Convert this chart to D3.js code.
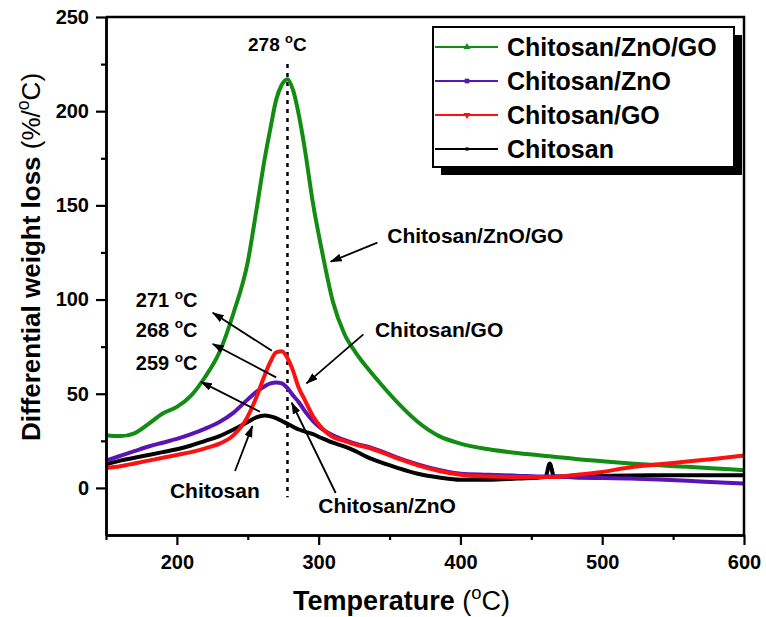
<!DOCTYPE html>
<html>
<head>
<meta charset="utf-8">
<script src="https://cdn.jsdelivr.net/npm/d3@7"></script>
<style>
  body { margin: 0; background: #fff; }
  text { font-family: Arial, "Liberation Sans", sans-serif; fill: #000; }
</style>
</head>
<body>
<svg width="766" height="617"></svg>
<script>
// Temperature grid (°C) shared by all four DTG curves
var temps = [150, 160, 170, 180, 190, 200, 210, 220, 230, 240, 250, 256, 262, 266, 270, 274, 278,
             282, 286, 290, 296, 302, 310, 318, 326, 334, 344, 356, 370, 385, 400, 420, 440,
             460, 463, 466, 480, 500, 520, 540, 560, 580, 600];

// Differential weight loss (%/°C)
var znoGo = [28, 27.5, 29, 34, 39.5, 43, 49, 59, 72, 93, 120, 147, 175, 191, 206, 214, 217,
             211, 198, 181, 151, 127, 99, 82, 72, 64, 55, 45, 35, 27.5, 23.5, 20.5, 18.5,
             17, 16.8, 16.6, 15.5, 14.2, 13, 12, 11.2, 10.3, 9.4];
var zno = [14.5, 17, 19.5, 22, 24, 26, 28.5, 31.5, 35, 40, 47, 51, 54, 55.5, 56, 55.5, 53,
           49, 45.5, 41, 35.5, 31.5, 28, 25.5, 23.5, 22, 19.5, 16, 12.5, 9.5, 7.5, 7, 6.5,
           6, 6, 6, 5.5, 5.2, 5, 4.5, 3.8, 3, 2.3];
var go = [10.5, 11.5, 13, 14.5, 16, 17.5, 19, 21, 23.5, 28, 38, 48, 60, 67, 72, 72.5, 69,
          62, 53, 47, 38, 32, 27, 25, 23, 21.5, 19, 15.5, 12, 9, 7, 6, 5.8,
          5.8, 5.8, 5.8, 6.8, 8.5, 11, 12.5, 14, 15.5, 17.2];
var chitosan = [12.5, 14.5, 16, 17.5, 19, 20.5, 22.5, 25, 27.5, 31, 35, 37.5, 38.5, 38, 37, 35.5, 34,
                32.5, 31, 30, 28.5, 26.5, 24, 22, 19.5, 16.5, 13.5, 10.5, 7.5, 5.5, 4.3, 4.3, 5,
                5.8, 13, 6, 6, 6.3, 6.6, 6.7, 6.7, 6.7, 6.7];

var seriesNames = ["Chitosan/ZnO/GO", "Chitosan/ZnO", "Chitosan/GO", "Chitosan"];
var seriesColors = ["#128c12", "#5a14b4", "#ff1010", "#000000"];
var seriesValues = [znoGo, zno, go, chitosan];
var legendMarks = ["triangle", "square", "triangle-down", "square"];

var xMajor = [200, 300, 400, 500, 600];
var xMinor = [150, 250, 350, 450, 550];
var yMajor = [0, 50, 100, 150, 200, 250];
var yMinor = [25, 75, 125, 175, 225];

// peak annotations: label, text anchor (T, value), arrow tail (T, value), arrow head (T, value)
var peakLabels = ["271 ", "268 ", "259 "];
var peakText = [[171, 96], [171, 80.3], [171, 62.6]];
var peakTail = [[267, 72.8], [270, 58.7], [258.6, 40.4]];
var peakHead = [[225.3, 93], [225.3, 76.4], [217, 56.3]];

// curve name callouts
var calloutNames = ["Chitosan/ZnO/GO", "Chitosan/GO", "Chitosan", "Chitosan/ZnO"];
var calloutText = [[348.4, 130.2], [339.7, 80.3], [195.1, -5.5], [299.7, -13.2]];
var calloutTail = [[341.4, 130.2], [331.5, 81.5], [241, 9], [312, -2.7]];
var calloutHead = [[308.5, 120.1], [291.5, 55.5], [253.2, 32.8], [281, 45.2]];

var peakTemp = 278;

var svg = d3.select("svg");
svg.append("rect").attr("width", 766).attr("height", 617).attr("fill", "#fff");

var x = d3.scaleLinear().domain([150, 600]).range([106, 744]);
var y = d3.scaleLinear().domain([-25, 250]).range([535, 17]);

// arrowhead marker
svg.append("defs").append("marker")
    .attr("id", "head")
    .attr("viewBox", "0 0 12 8")
    .attr("refX", 11).attr("refY", 4)
    .attr("markerWidth", 12).attr("markerHeight", 8)
    .attr("markerUnits", "userSpaceOnUse")
    .attr("orient", "auto")
  .append("path")
    .attr("d", "M0,0 L12,4 L0,8 Z")
    .attr("fill", "#000");

// superscript helper: parts = [[text, weight, sup]]
function richText(g, px, py, parts, size, anchor) {
  var t = g.append("text")
      .attr("x", px).attr("y", py)
      .attr("font-size", size + "px")
      .attr("text-anchor", anchor || "start");
  var shift = 0;
  parts.forEach(function(p) {
    var s = t.append("tspan").text(p[0]).attr("font-weight", p[1] || "bold");
    var want = p[2] ? -0.42 * size : 0;
    if (p[2]) s.attr("font-size", (size * 0.68) + "px");
    if (want !== shift) { s.attr("dy", want - shift); shift = want; }
  });
  return t;
}

// dotted line at peak temperature
svg.append("line")
    .attr("x1", x(peakTemp)).attr("x2", x(peakTemp))
    .attr("y1", y(225)).attr("y2", y(-5))
    .attr("stroke", "#000").attr("stroke-width", 2.5)
    .attr("stroke-dasharray", "4,5");

// curves (draw order: black, purple, green, red)
var line = d3.line()
    .x(function(d) { return x(d[0]); })
    .y(function(d) { return y(d[1]); })
    .curve(d3.curveMonotoneX);

[3, 1, 0, 2].forEach(function(i) {
  svg.append("path")
      .datum(temps.map(function(t, k) { return [t, seriesValues[i][k]]; }))
      .attr("d", line)
      .attr("fill", "none")
      .attr("stroke", seriesColors[i])
      .attr("stroke-width", 4)
      .attr("stroke-linejoin", "round");
});

// axes
svg.append("g").attr("transform", "translate(0," + y(-25) + ")")
    .call(d3.axisBottom(x).tickValues(xMajor).tickSize(10).tickSizeOuter(0).tickPadding(9.5));
svg.append("g").attr("transform", "translate(0," + y(-25) + ")")
    .call(d3.axisBottom(x).tickValues(xMinor).tickSize(5).tickSizeOuter(0).tickFormat(""));
svg.append("g").attr("transform", "translate(" + x(150) + ",0)")
    .call(d3.axisLeft(y).tickValues(yMajor).tickSize(10).tickSizeOuter(0).tickPadding(7));
svg.append("g").attr("transform", "translate(" + x(150) + ",0)")
    .call(d3.axisLeft(y).tickValues(yMinor).tickSize(5).tickSizeOuter(0).tickFormat(""));

svg.selectAll(".domain").attr("stroke-width", 2.5);
svg.selectAll(".tick line").attr("stroke-width", 2.2);
svg.selectAll(".tick text")
    .attr("font-family", "Arial, 'Liberation Sans', sans-serif")
    .attr("font-size", "20px").attr("font-weight", "bold");

// top and right frame
svg.append("path")
    .attr("d", "M" + x(150) + "," + y(250) + "H" + x(600) + "V" + y(-25))
    .attr("fill", "none").attr("stroke", "#000").attr("stroke-width", 2.5);

// axis titles
richText(svg, 401.5, 610, [["Temperature ", "bold"], ["(", "normal"], ["o", "normal", true], ["C)", "normal"]], 27, "middle");
var yt = svg.append("g").attr("transform", "translate(40,257) rotate(-90)");
richText(yt, 0, 0, [["Differential weight loss ", "bold"], ["(%/", "normal"], ["o", "normal", true], ["C)", "normal"]], 26, "middle");

// peak temperature labels and arrows
richText(svg, x(250.2), y(231.7), [["278 "], ["o", "bold", true], ["C"]], 19);
peakLabels.forEach(function(lab, i) {
  richText(svg, x(peakText[i][0]), y(peakText[i][1]), [[lab], ["o", "bold", true], ["C"]], 20);
  svg.append("line")
      .attr("x1", x(peakTail[i][0])).attr("y1", y(peakTail[i][1]))
      .attr("x2", x(peakHead[i][0])).attr("y2", y(peakHead[i][1]))
      .attr("stroke", "#000").attr("stroke-width", 1.8)
      .attr("marker-end", "url(#head)");
});

calloutNames.forEach(function(name, i) {
  svg.append("text")
      .attr("x", x(calloutText[i][0])).attr("y", y(calloutText[i][1]))
      .attr("font-size", "21px").attr("font-weight", "bold")
      .text(name);
  svg.append("line")
      .attr("x1", x(calloutTail[i][0])).attr("y1", y(calloutTail[i][1]))
      .attr("x2", x(calloutHead[i][0])).attr("y2", y(calloutHead[i][1]))
      .attr("stroke", "#000").attr("stroke-width", 1.8)
      .attr("marker-end", "url(#head)");
});

// legend with drop shadow
var lg = svg.append("g").attr("transform", "translate(433,27)");
lg.append("rect").attr("x", 8).attr("y", 8).attr("width", 301).attr("height", 140).attr("fill", "#000");
lg.append("rect").attr("width", 301).attr("height", 140)
    .attr("fill", "#fff").attr("stroke", "#000").attr("stroke-width", 2);

var symbolTypes = {"triangle": d3.symbolTriangle, "square": d3.symbolSquare, "triangle-down": d3.symbolTriangle};
seriesNames.forEach(function(name, i) {
  var ry = 20 + i * 34;
  lg.append("line").attr("x1", 2).attr("x2", 65).attr("y1", ry).attr("y2", ry)
      .attr("stroke", seriesColors[i]).attr("stroke-width", 2.2);
  lg.append("path")
      .attr("d", d3.symbol().type(symbolTypes[legendMarks[i]]).size(i === 3 ? 10 : 22)())
      .attr("transform", "translate(34," + ry + ")" + (legendMarks[i] === "triangle-down" ? " rotate(180)" : ""))
      .attr("fill", seriesColors[i]);
  lg.append("text").attr("x", 74).attr("y", ry).attr("dy", "0.36em")
      .attr("font-size", "25px").attr("font-weight", "bold")
      .text(name);
});
</script>
</body>
</html>
